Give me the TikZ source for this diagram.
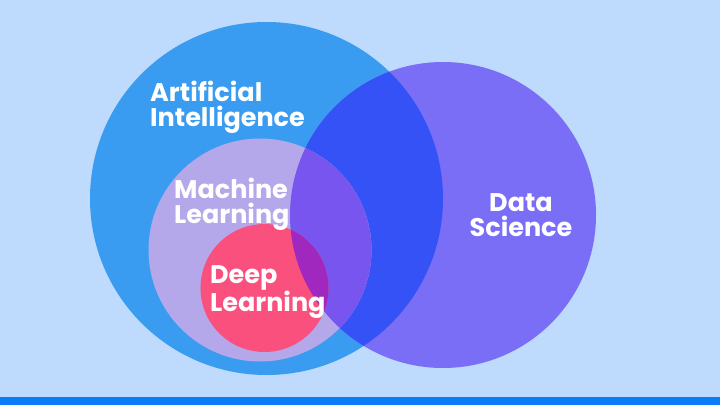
\documentclass[tikz,border=0pt]{standalone}
\usepackage{fontspec}
\setmainfont{Poppins}
\usepackage{tikz}
\usetikzlibrary{positioning}

\definecolor{bgblue}{HTML}{BEDAFC}
\definecolor{stripblue}{HTML}{0A7CF5}
\definecolor{aiblue}{HTML}{3A9CF0}
\definecolor{dspurple}{HTML}{7B6EF6}
\definecolor{aidsblue}{HTML}{3452F5}
\definecolor{mllilac}{HTML}{B4A8EA}
\definecolor{mldsviolet}{HTML}{7855EE}
\definecolor{dlpink}{HTML}{FA507D}
\definecolor{dldsmagenta}{HTML}{A028BE}

\begin{document}
\begin{tikzpicture}[x=1pt,y=-1pt,
    setlabel/.style={text=white, inner sep=0pt, anchor=north west, align=left,
        font=\bfseries\fontsize{25.5}{25}\selectfont}]
    \useasboundingbox (0,0) rectangle (720,405);
    \fill[bgblue] (0,0) rectangle (720,405);
    \fill[stripblue] (0,397) rectangle (720,405);

    \coordinate (AI) at (266.5,198.5);
    \coordinate (DS) at (443,215);
    \coordinate (ML) at (260,250);
    \coordinate (DL) at (264.5,288);

    \fill[aiblue] (AI) circle (176.5pt);
    \fill[dspurple] (DS) circle (153pt);
    \begin{scope}
        \clip (DS) circle (153pt);
        \fill[aidsblue] (AI) circle (176.5pt);
    \end{scope}
    \fill[mllilac] (ML) circle (111.5pt);
    \begin{scope}
        \clip (DS) circle (153pt);
        \fill[mldsviolet] (ML) circle (111.5pt);
    \end{scope}
    \fill[dlpink] (DL) circle (64pt);
    \begin{scope}
        \clip (DS) circle (153pt);
        \fill[dldsmagenta] (DL) circle (64pt);
    \end{scope}

    \node[setlabel] (ailabel) at (150,81) {Artificial\\Intelligence};
    \node[setlabel] (mllabel) at (174,178) {Machine\\Learning};
    \node[setlabel] (dllabel) at (210,265) {Deep\\Learning};
    \node[setlabel, align=center, anchor=north] (dslabel) at (521,193) {Data\\Science};
\end{tikzpicture}
\end{document}
